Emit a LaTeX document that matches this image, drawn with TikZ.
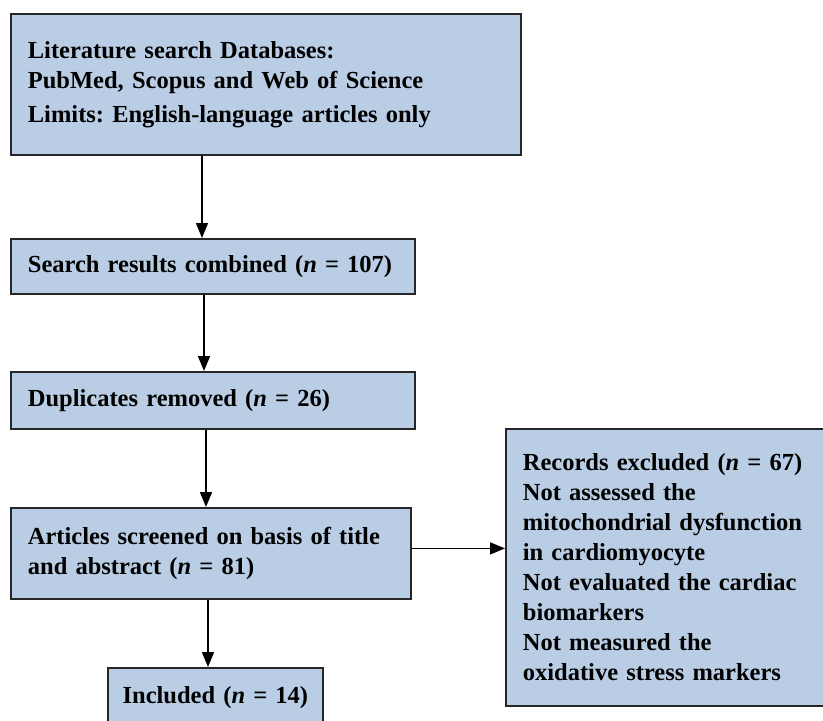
\documentclass[tikz,border=0pt]{standalone}
\usepackage{fontspec}
\setmainfont{Liberation Serif}
\usetikzlibrary{arrows.meta}
\definecolor{boxfill}{HTML}{B9CDE5}
\begin{document}
\begin{tikzpicture}[x=1pt,y=-1pt,
  box/.style={draw=black!85, line width=1.8pt, fill=boxfill, anchor=north west,
    inner xsep=17pt, inner ysep=2pt, align=left,
    execute at begin node={\frenchspacing},
    font=\fontsize{24.5}{30}\selectfont\bfseries},
  arr/.style={line width=1.6pt, -{Triangle[length=15pt,width=12pt]}}]
\clip (0,0) rectangle (823,721);
\fill[white] (0,0) rectangle (823,721);
\node[box, text width=476pt, minimum height=141pt] (b1) at (10,13)
  {Literature search Databases:\\PubMed, Scopus and Web of Science\\[4pt]Limits: English-language articles only\\[4pt]};
\node[box, text width=370pt, minimum height=55pt] (b2) at (10,238)
  {\mbox{Search results combined (\textit{n} = 107)}};
\node[box, text width=370pt, minimum height=57pt] (b3) at (10,371)
  {\mbox{Duplicates removed (\textit{n} = 26)}};
\node[box, text width=366pt, minimum height=91pt] (b4) at (10,507)
  {Articles screened on basis of title\\and abstract (\textit{n} = 81)};
\node[box, text width=300pt, minimum height=277pt] (b5) at (505,428)
  {Records excluded (\textit{n} = 67)\\Not assessed the\\mitochondrial dysfunction\\in cardiomyocyte\\Not evaluated the cardiac\\biomarkers\\Not measured the\\oxidative stress markers};
\node[box, align=center, inner xsep=10pt, text width=195pt, minimum height=60pt] (b6) at (107,667)
  {\mbox{Included (\textit{n} = 14)}};
\draw[arr] ([xshift=192pt]b1.south west) -- ([xshift=192pt]b2.north west);
\draw[arr] ([xshift=194pt]b2.south west) -- ([xshift=194pt]b3.north west);
\draw[arr] ([xshift=196pt]b3.south west) -- ([xshift=196pt]b4.north west);
\draw[arr] ([xshift=198pt]b4.south west) -- ([xshift=101pt]b6.north west);
\draw[arr] ([yshift=5pt]b4.east) -- ([yshift=5pt]b4.east -| b5.west);
\end{tikzpicture}
\end{document}
